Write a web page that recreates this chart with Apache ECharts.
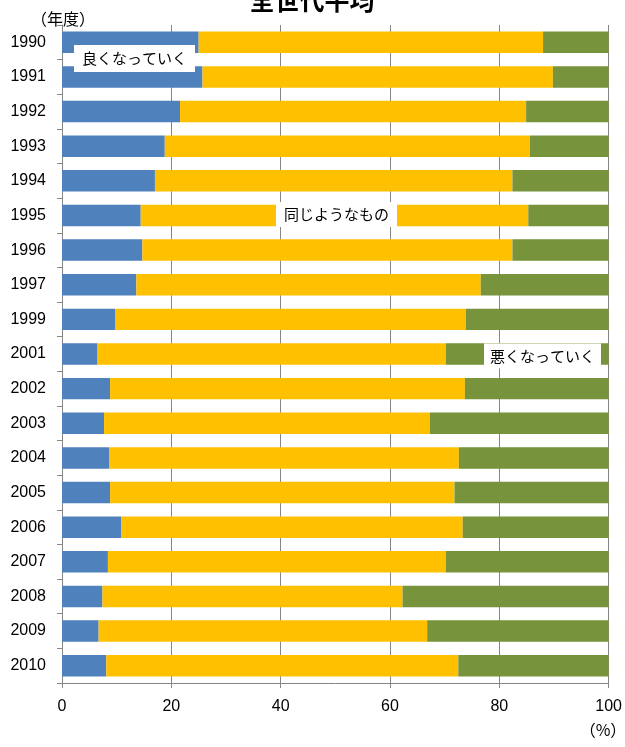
<!DOCTYPE html>
<html>
<head>
<meta charset="utf-8">
<script src="https://cdn.jsdelivr.net/npm/echarts@6/dist/echarts.min.js"></script>
<style>
html,body{margin:0;padding:0;background:#fff;}
#chart{width:625px;height:747px;}
</style>
</head>
<body>
<div id="chart"></div>
<script>
const categories = ['1990','1991','1992','1993','1994','1995','1996','1997','1999','2001','2002','2003','2004','2005','2006','2007','2008','2009','2010'];
const better = [25.0,25.7,21.6,18.8,17.0,14.4,14.7,13.6,9.7,6.5,8.8,7.7,8.6,8.8,10.8,8.4,7.4,6.7,8.1];
const same   = [63.0,64.1,63.3,66.8,65.4,70.9,67.7,63.0,64.2,63.7,64.9,59.6,64.0,63.0,62.5,61.8,54.9,60.1,64.4];
const worse  = [12.0,10.2,15.1,14.4,17.6,14.7,17.6,23.4,26.1,29.8,26.3,32.7,27.4,28.2,26.7,29.8,37.7,33.2,27.5];
const seriesNames = ['良くなっていく','同じようなもの','悪くなっていく'];
const xTicks = [0,20,40,60,80,100];

const chart = echarts.init(document.getElementById('chart'), null, {renderer:'canvas'});
const gray = '#868686';
const numFont = 'Liberation Sans';
const jpFont = '"Noto Sans CJK JP"';

function mkSeries(name, data, color){
  return {
    name: name, type: 'bar', stack: 'total', data: data,
    barCategoryGap: '38%',
    itemStyle: { color: color },
    emphasis: { disabled: true },
    animation: false
  };
}

chart.setOption({
  animation: false,
  grid: { left: 62, right: 13, top: 25, bottom: 64, containLabel: false },
  xAxis: {
    type: 'value', min: xTicks[0], max: xTicks[xTicks.length-1], interval: 20,
    axisLine: { show: true, lineStyle: { color: gray, width: 1 } },
    axisTick: { show: true, length: 5, lineStyle: { color: gray } },
    axisLabel: { margin: 16, color: '#000', fontFamily: numFont, fontSize: 16 },
    splitLine: { show: true, lineStyle: { color: gray, width: 1 } }
  },
  yAxis: {
    type: 'category', data: categories, inverse: true,
    axisLine: { show: true, lineStyle: { color: gray, width: 1 } },
    axisTick: { show: true, length: 5, lineStyle: { color: gray } },
    axisLabel: { margin: 16, color: '#000', fontFamily: numFont, fontSize: 16 },
    splitLine: { show: false }
  },
  series: [
    mkSeries(seriesNames[0], better, '#4F81BD'),
    mkSeries(seriesNames[1], same, '#FFC000'),
    mkSeries(seriesNames[2], worse, '#77933C')
  ],
  graphic: [
    { type: 'text', x: 312, y: 0, z: 100,
      style: { text: '全世代平均', fill: '#000', font: 'bold 25px ' + jpFont, align: 'center', verticalAlign: 'middle' } },
    { type: 'text', x: 63, y: 19, z: 100,
      style: { text: '（年度）', fill: '#000', font: '16px ' + jpFont, align: 'center', verticalAlign: 'middle' } },
    { type: 'text', x: 603, y: 730, z: 100,
      style: { text: '（%）', fill: '#000', font: '16px ' + jpFont, align: 'center', verticalAlign: 'middle' } },
    { type: 'text', x: 134.5, y: 58.5, z: 100,
      style: { text: seriesNames[0], fill: '#000', font: '15px ' + jpFont, align: 'center', verticalAlign: 'middle',
               backgroundColor: '#fff', padding: [6, 8] } },
    { type: 'text', x: 336.5, y: 214.5, z: 100,
      style: { text: seriesNames[1], fill: '#000', font: '15px ' + jpFont, align: 'center', verticalAlign: 'middle',
               backgroundColor: '#fff', padding: [5, 8] } },
    { type: 'text', x: 542.5, y: 356, z: 100,
      style: { text: seriesNames[2], fill: '#000', font: '15px ' + jpFont, align: 'center', verticalAlign: 'middle',
               backgroundColor: '#fff', padding: [5, 6] } }
  ]
});
</script>
</body>
</html>
